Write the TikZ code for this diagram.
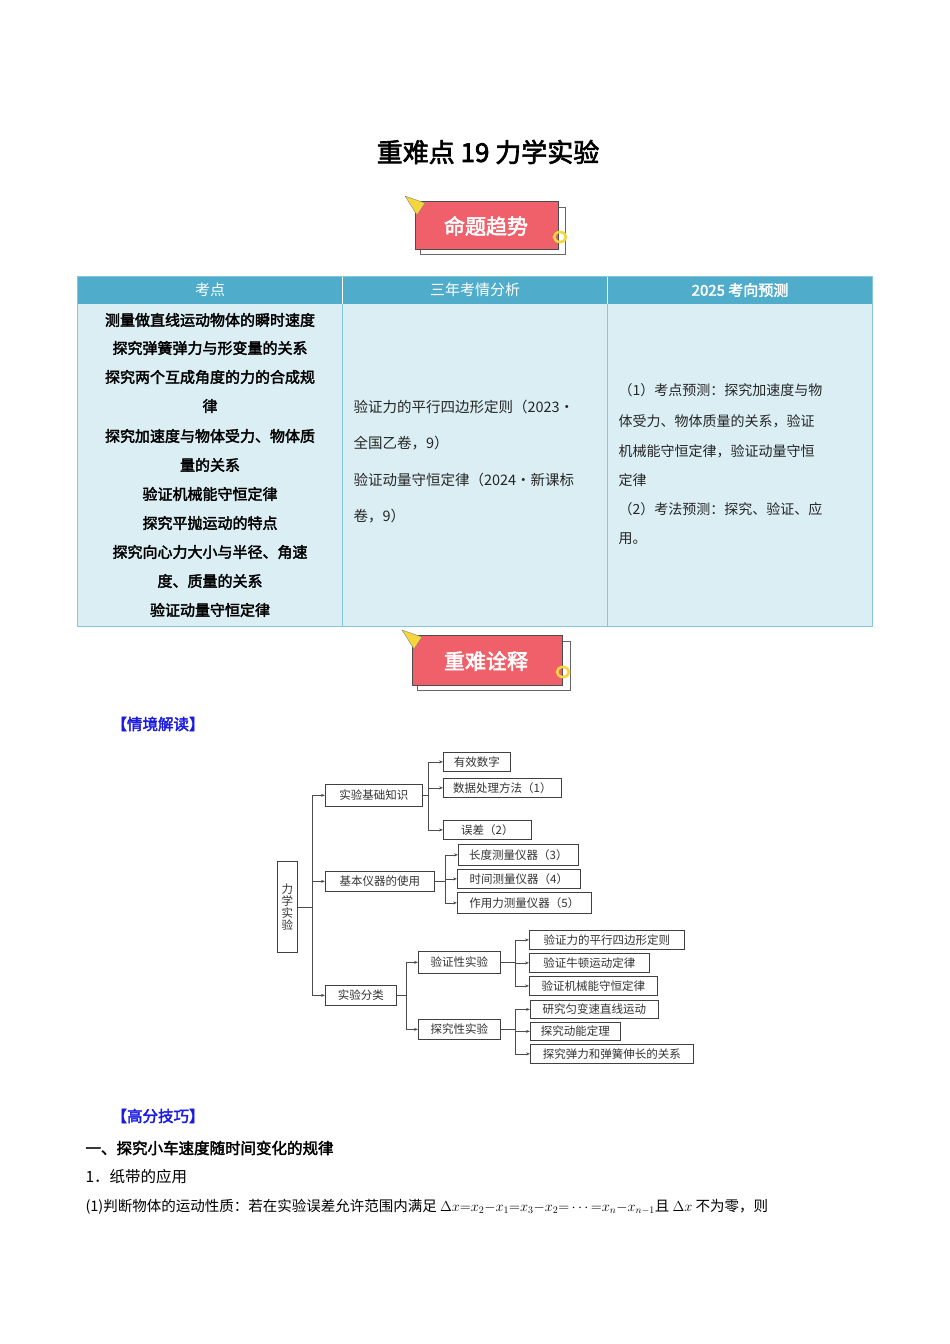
\documentclass[tikz,border=0pt]{standalone}
\usepackage{fontspec}
\setmainfont{Noto Sans CJK SC}
\newfontfamily\cjkb[FakeBold=2.5]{Noto Sans CJK SC}
\usetikzlibrary{arrows.meta}
\definecolor{hdr}{HTML}{4FADCB}
\definecolor{bodyc}{HTML}{DAEEF3}
\definecolor{pinkc}{HTML}{F0606A}
\definecolor{yel}{HTML}{F5D63D}
\definecolor{bluet}{HTML}{1A1AE0}
\tikzset{
 box/.style={draw=black!75,line width=0.7pt,font=\fontsize{11.5}{12}\selectfont,text=black!80,inner sep=0pt,anchor=north west},
 con/.style={draw=black!70,line width=0.7pt,-{Stealth[length=4pt,width=3pt]}},
 c1/.style={font=\cjkb\fontsize{15}{16}\selectfont,anchor=center},
 c2/.style={font=\fontsize{14.5}{16}\selectfont,anchor=west,text=black!85},
 c3/.style={font=\fontsize{14}{16}\selectfont,anchor=west,text=black!85},
 bt/.style={font=\fontsize{15.5}{17}\selectfont,anchor=west}
}
\newcommand{\banner}[3]{%
 \fill[white] (#1-68,#2-15) rectangle (#1+80,#2+30);
 \draw[black!60,line width=0.8pt] (#1-68,#2-15) rectangle (#1+80,#2+30);
 \fill[pinkc] (#1-73,#2-22) rectangle (#1+73,#2+24);
 \draw[black!70,line width=1pt] (#1-73,#2-22) rectangle (#1+73,#2+24);
 \fill[yel,draw=black!60] (#1-80,#2-30) -- (#1-60,#2-22) -- (#1-67,#2-8) -- cycle;
 \draw[yel,line width=2.5pt] (#1+75,#2+12) ellipse (6 and 5);
 \node[font=\cjkb\fontsize{21}{22}\selectfont,text=white] (#3) at (#1,#2+1) {\contour{#3}};
}
\newcommand{\contour}[1]{}
\begin{document}
\begin{tikzpicture}[x=1pt,y=-1pt]
\useasboundingbox (0,0) rectangle (950,1344);
\fill[white] (0,0) rectangle (950,1344);
\node[font=\cjkb\fontsize{26}{28}\selectfont] (title) at (488,152) {重难点 19 力学实验};
% banner 1
\fill[white] (420,207) rectangle (565,254);
\draw[black!60,line width=0.8pt] (420,207) rectangle (565,254);
\fill[pinkc] (415,201) rectangle (558,249);
\draw[black!70,line width=1pt] (415,201) rectangle (558,249);
\fill[yel,draw=black!50] (405,196) -- (425,203) -- (417,215) -- cycle;
\draw[yel,line width=2.5pt] (560,237) ellipse (6 and 5);
\node[font=\cjkb\fontsize{21}{22}\selectfont,text=white] (b1) at (486,226) {命题趋势};
% banner 2
\fill[white] (417,641) rectangle (570,690);
\draw[black!60,line width=0.8pt] (417,641) rectangle (570,690);
\fill[pinkc] (412,635) rectangle (562,685);
\draw[black!70,line width=1pt] (412,635) rectangle (562,685);
\fill[yel,draw=black!50] (402,630) -- (422,637) -- (414,649) -- cycle;
\draw[yel,line width=2.5pt] (563,672) ellipse (6 and 5);
\node[font=\cjkb\fontsize{21}{22}\selectfont,text=white] (b2) at (486,661) {重难诠释};
% table
\fill[hdr] (77,276) rectangle (872,304);
\fill[bodyc] (77,304) rectangle (872,626);
\draw[white,line width=0.8pt] (342,276) -- (342,304) (607,276) -- (607,304);
\draw[hdr!70,line width=0.6pt] (77,276) rectangle (872,626) (342,304) -- (342,626) (607,304) -- (607,626);
\node[text=white,font=\fontsize{15}{16}\selectfont] (h1) at (210,290) {考点};
\node[text=white,font=\fontsize{15}{16}\selectfont] (h2) at (475,290) {三年考情分析};
\node[text=white,font=\cjkb\fontsize{15}{16}\selectfont] (h3) at (740,290) {2025 考向预测};
\node[c1] (r1) at (210,320) {测量做直线运动物体的瞬时速度};
\node[c1] (r2) at (210,348) {探究弹簧弹力与形变量的关系};
\node[c1] (r3) at (210,377) {探究两个互成角度的力的合成规};
\node[c1] (r4) at (210,406) {律};
\node[c1] (r5) at (210,436) {探究加速度与物体受力、物体质};
\node[c1] (r6) at (210,465) {量的关系};
\node[c1] (r7) at (210,494) {验证机械能守恒定律};
\node[c1] (r8) at (210,523) {探究平抛运动的特点};
\node[c1] (r9) at (210,552) {探究向心力大小与半径、角速};
\node[c1] (r10) at (210,581) {度、质量的关系};
\node[c1] (r11) at (210,610) {验证动量守恒定律};
\node[c2] (m1) at (350,407) {验证力的平行四边形定则（2023·};
\node[c2] (m2) at (350,443) {全国乙卷，9）};
\node[c2] (m3) at (350,480) {验证动量守恒定律（2024·新课标};
\node[c2] (m4) at (350,516) {卷，9）};
\node[c3] (p1) at (615,390) {（1）考点预测：探究加速度与物};
\node[c3] (p2) at (615,421) {体受力、物体质量的关系，验证};
\node[c3] (p3) at (615,451) {机械能守恒定律，验证动量守恒};
\node[c3] (p4) at (615,480) {定律};
\node[c3] (p5) at (615,509) {（2）考法预测：探究、验证、应};
\node[c3] (p6) at (615,539) {用。};
% tree
\node[box,minimum width=20pt,minimum height=91pt,align=center] (root) at (277,861) {力\\学\\实\\验};
\node[box,minimum width=97pt,minimum height=22pt] (a) at (325,784) {实验基础知识};
\node[box,minimum width=67pt,minimum height=19pt] (a1) at (443,752) {有效数字};
\node[box,minimum width=118pt,minimum height=19pt] (a2) at (443,778) {数据处理方法（1）};
\node[box,minimum width=88pt,minimum height=19pt] (a3) at (443,820) {误差（2）};
\node[box,minimum width=109pt,minimum height=20pt] (b) at (325,871) {基本仪器的使用};
\node[box,minimum width=120pt,minimum height=21pt] (bb1) at (458,844) {长度测量仪器（3）};
\node[box,minimum width=123pt,minimum height=19pt] (bb2) at (457,869) {时间测量仪器（4）};
\node[box,minimum width=134pt,minimum height=21pt] (bb3) at (457,892) {作用力测量仪器（5）};
\node[box,minimum width=71pt,minimum height=20pt] (c) at (325,985) {实验分类};
\node[box,minimum width=82pt,minimum height=22pt] (v) at (418,951) {验证性实验};
\node[box,minimum width=82pt,minimum height=20pt] (e) at (418,1019) {探究性实验};
\node[box,minimum width=155pt,minimum height=19pt] (v1) at (529,930) {验证力的平行四边形定则};
\node[box,minimum width=120pt,minimum height=19pt] (v2) at (529,953) {验证牛顿运动定律};
\node[box,minimum width=128pt,minimum height=19pt] (v3) at (529,976) {验证机械能守恒定律};
\node[box,minimum width=128pt,minimum height=18pt] (e1) at (530,1000) {研究匀变速直线运动};
\node[box,minimum width=90pt,minimum height=18pt] (e2) at (530,1022) {探究动能定理};
\node[box,minimum width=163pt,minimum height=19pt] (e3) at (530,1044) {探究弹力和弹簧伸长的关系};
\foreach \t in {a,b,c} \draw[con] (root.east) -- ++(15,0) |- (\t.west);
\foreach \t in {a1,a2,a3} \draw[con] (a.east) -- ++(6,0) |- (\t.west);
\foreach \t in {bb1,bb2,bb3} \draw[con] (b.east) -- ++(11,0) |- (\t.west);
\foreach \t in {v,e} \draw[con] (c.east) -- ++(10,0) |- (\t.west);
\foreach \t in {v1,v2,v3} \draw[con] (v.east) -- ++(15,0) |- (\t.west);
\foreach \t in {e1,e2,e3} \draw[con] (e.east) -- ++(15,0) |- (\t.west);
% bottom text
\node[bt,font=\cjkb\fontsize{15.5}{17}\selectfont,text=bluet] (t1) at (108,724) {【情境解读】};
\node[bt,font=\cjkb\fontsize{15.5}{17}\selectfont,text=bluet] (t2) at (108,1116) {【高分技巧】};
\node[bt,font=\cjkb\fontsize{15.5}{17}\selectfont] (t3) at (82,1148) {一、探究小车速度随时间变化的规律};
\node[bt] (t4) at (82,1177) {1．纸带的应用};
\node[bt,font=\fontsize{14.5}{17}\selectfont] (t5) at (82,1207) {(1)判断物体的运动性质：若在实验误差允许范围内满足 $\Delta x{=}x_2{-}x_1{=}x_3{-}x_2{=}\cdots{=}x_n{-}x_{n-1}$且 $\Delta x$ 不为零，则};
\end{tikzpicture}
\end{document}
